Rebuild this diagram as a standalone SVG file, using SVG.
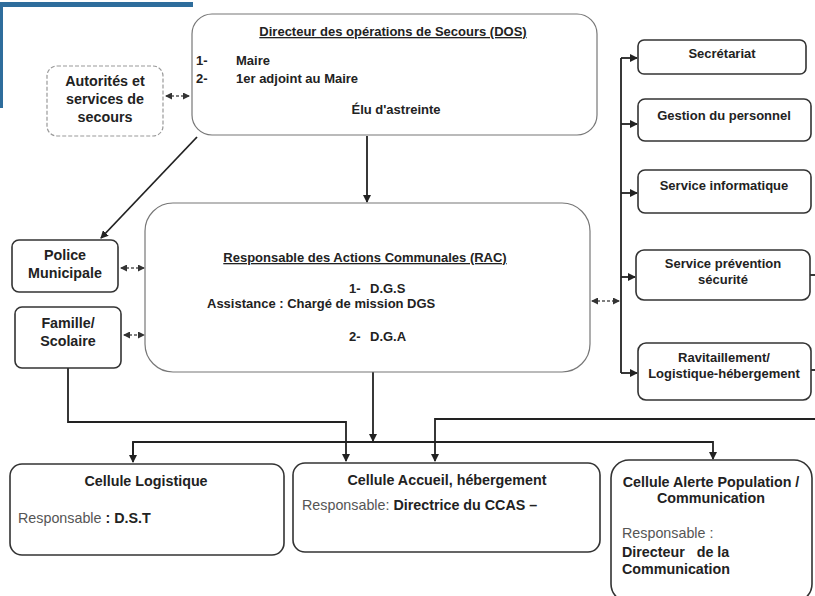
<svg xmlns="http://www.w3.org/2000/svg" width="815" height="596" viewBox="0 0 815 596">
<defs>
<marker id="ah" markerWidth="8" markerHeight="8" refX="7" refY="4" orient="auto" markerUnits="userSpaceOnUse">
<path d="M0,0 L8,4 L0,8 Z" fill="#222"/>
</marker>
<marker id="ahs" markerWidth="7" markerHeight="7" refX="6" refY="3.5" orient="auto-start-reverse" markerUnits="userSpaceOnUse">
<path d="M0,0 L7,3.5 L0,7 Z" fill="#333"/>
</marker>
<style>
text{font-family:"Liberation Sans",Arial,sans-serif;font-size:13px;fill:#222}
.b{font-weight:bold}
.c{text-anchor:middle}
.u{text-decoration:underline}
.l{font-size:14.3px}
.n{font-weight:normal;fill:#555}
.box{fill:#fff;stroke:#333;stroke-width:1.6}
.lbox{fill:#fff;stroke:#777;stroke-width:1.2}
.dbox{fill:#fff;stroke:#999;stroke-width:1.2;stroke-dasharray:4 2}
.ln{fill:none;stroke:#222;stroke-width:1.8}
.dl{fill:none;stroke:#555;stroke-width:1.3;stroke-dasharray:3 2}
</style>
</defs>
<rect width="815" height="596" fill="#fff"/>
<g id="deco">
<rect x="0" y="2" width="193" height="5" fill="#2e6d9c"/>
<rect x="0" y="7" width="3" height="101" fill="#2e6d9c"/>
</g>
<g id="connectors">
<line class="ln" x1="197" y1="137" x2="101" y2="238" marker-end="url(#ah)"/>
<line class="ln" x1="367" y1="136" x2="367" y2="202" marker-end="url(#ah)"/>
<line class="dl" x1="166" y1="96" x2="189" y2="96" marker-start="url(#ahs)" marker-end="url(#ahs)"/>
<line class="dl" x1="121" y1="268" x2="144" y2="268" marker-start="url(#ahs)" marker-end="url(#ahs)"/>
<line class="dl" x1="124" y1="335" x2="144" y2="335" marker-start="url(#ahs)" marker-end="url(#ahs)"/>
<line class="dl" x1="592" y1="301" x2="619" y2="301" marker-start="url(#ahs)" marker-end="url(#ahs)"/>
<polyline class="ln" points="621,58 621,373"/>
<line class="ln" x1="621" y1="58" x2="637" y2="58" marker-end="url(#ah)"/>
<line class="ln" x1="621" y1="124" x2="637" y2="124" marker-end="url(#ah)"/>
<line class="ln" x1="621" y1="193" x2="637" y2="193" marker-end="url(#ah)"/>
<line class="ln" x1="621" y1="277" x2="635" y2="277" marker-end="url(#ah)"/>
<line class="ln" x1="621" y1="373" x2="637" y2="373" marker-end="url(#ah)"/>
<line class="ln" x1="810" y1="275" x2="815" y2="275"/>
<line class="ln" x1="811" y1="370" x2="815" y2="370"/>
<polyline class="ln" points="68,368 68,422 346,422 346,461" marker-end="url(#ah)"/>
<line class="ln" x1="373" y1="372" x2="373" y2="441" marker-end="url(#ah)"/>
<polyline class="ln" points="133,461 133,442 713,442 713,459" marker-end="url(#ah)"/>
<line class="ln" x1="133" y1="442" x2="133" y2="462" marker-end="url(#ah)"/>
<polyline class="ln" points="815,419 435,419 435,461" marker-end="url(#ah)"/>
</g>
<g id="dos">
<rect class="lbox" x="192" y="14" width="405" height="121" rx="20"/>
<text class="b c u" x="393" y="36">Directeur des opérations de Secours (DOS)</text>
<text class="b" x="196" y="65">1-</text>
<text class="b" x="236" y="65">Maire</text>
<text class="b" x="196" y="83">2-</text>
<text class="b" x="236" y="83">1er adjoint au Maire</text>
<text class="b c" x="396" y="114">Élu d'astreinte</text>
</g>
<g id="autorites">
<rect class="dbox" x="47" y="66" width="116" height="70" rx="10"/>
<text class="b c l" x="105" y="86">Autorités et</text>
<text class="b c l" x="105" y="104">services de</text>
<text class="b c l" x="105" y="122">secours</text>
</g>
<g id="rac">
<rect class="lbox" x="145" y="203" width="445" height="169" rx="28"/>
<text class="b c u" x="365" y="262">Responsable des Actions Communales (RAC)</text>
<text class="b" x="349" y="293">1-</text>
<text class="b" x="370" y="293">D.G.S</text>
<text class="b" x="207" y="308">Assistance : Chargé de mission DGS</text>
<text class="b" x="349" y="341">2-</text>
<text class="b" x="370" y="341">D.G.A</text>
</g>
<g id="police">
<rect class="box" x="12" y="240" width="106" height="52" rx="7"/>
<text class="b c l" x="65" y="260">Police</text>
<text class="b c l" x="65" y="278">Municipale</text>
</g>
<g id="famille">
<rect class="box" x="15" y="307" width="106" height="61" rx="7"/>
<text class="b c l" x="68" y="328">Famille/</text>
<text class="b c l" x="68" y="346">Scolaire</text>
</g>
<g id="secretariat">
<rect class="box" x="638" y="40" width="168" height="34" rx="6"/>
<text class="b c" x="722" y="58">Secrétariat</text>
</g>
<g id="gestion">
<rect class="box" x="638" y="99" width="173" height="42" rx="7"/>
<text class="b c" x="724" y="120">Gestion du personnel</text>
</g>
<g id="informatique">
<rect class="box" x="638" y="170" width="173" height="43" rx="7"/>
<text class="b c" x="724" y="190">Service informatique</text>
</g>
<g id="prevention">
<rect class="box" x="636" y="250" width="174" height="50" rx="8"/>
<text class="b c" x="723" y="268">Service prévention</text>
<text class="b c" x="723" y="284">sécurité</text>
</g>
<g id="ravitaillement">
<rect class="box" x="638" y="343" width="173" height="57" rx="8"/>
<text class="b c" x="724" y="362">Ravitaillement/</text>
<text class="b c" x="724" y="378">Logistique-hébergement</text>
</g>
<g id="logistique">
<rect class="box" x="10" y="464" width="274" height="91" rx="12"/>
<text class="b c l" x="146" y="486">Cellule Logistique</text>
<text class="l" x="18" y="523"><tspan class="n">Responsable</tspan><tspan class="b"> : D.S.T</tspan></text>
</g>
<g id="accueil">
<rect class="box" x="293" y="463" width="307" height="89" rx="12"/>
<text class="b c l" x="447" y="485">Cellule Accueil, hébergement</text>
<text class="l" x="302" y="510"><tspan class="n">Responsable:</tspan><tspan class="b"> Directrice du CCAS –</tspan></text>
</g>
<g id="alerte">
<rect class="box" x="611" y="460" width="201" height="142" rx="18"/>
<text class="b c l" x="711" y="487">Cellule Alerte Population /</text>
<text class="b c l" x="711" y="503">Communication</text>
<text class="n l" x="622" y="538">Responsable :</text>
<text class="b l" x="622" y="557" style="white-space:pre">Directeur   de la</text>
<text class="b l" x="622" y="574">Communication</text>
</g>
</svg>
